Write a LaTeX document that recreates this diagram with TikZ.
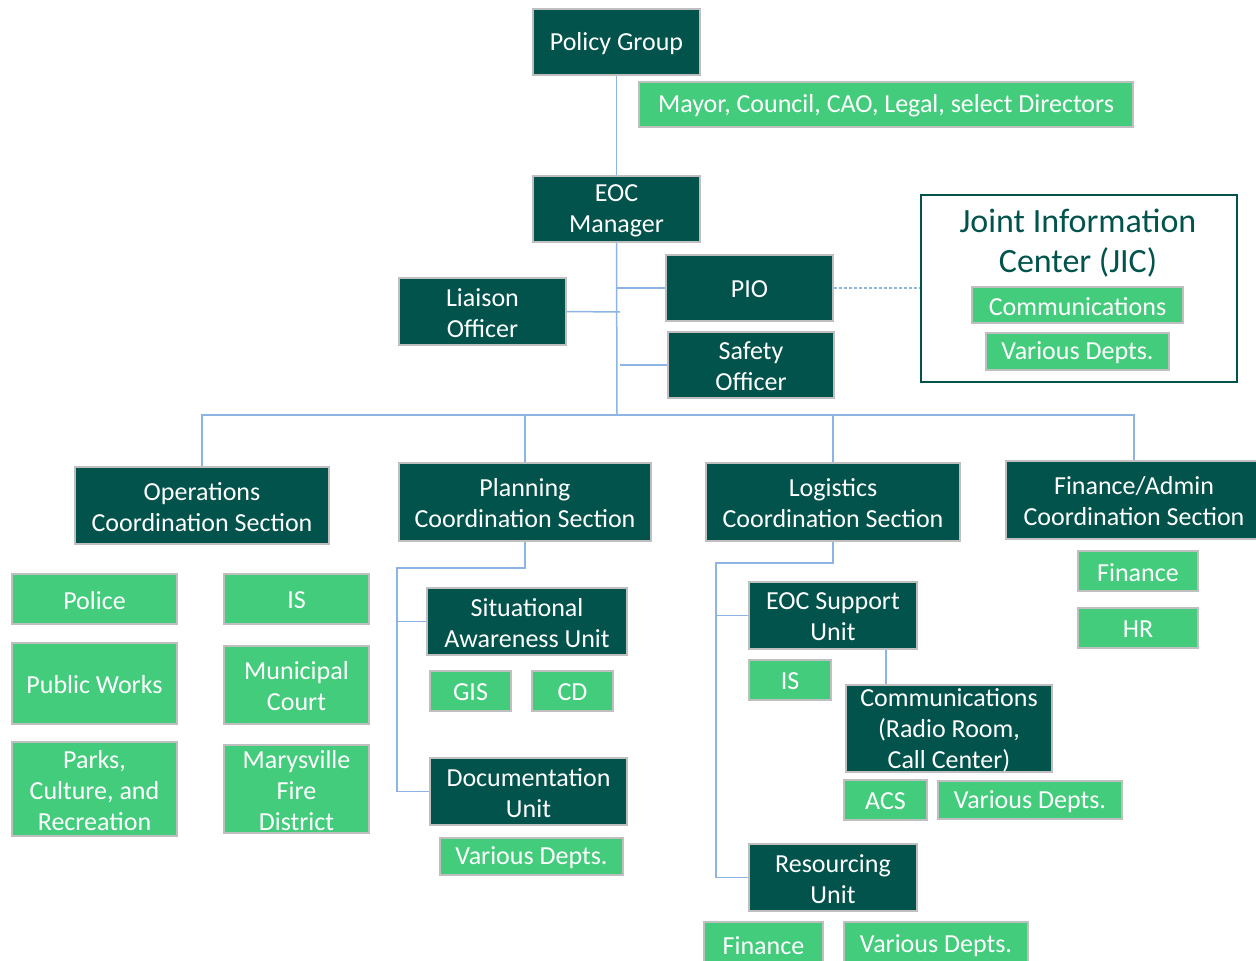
\documentclass[tikz,border=0pt]{standalone}
\usepackage{fontspec}
\setmainfont{Carlito}
\definecolor{dk}{RGB}{2,83,76}
\definecolor{gr}{RGB}{68,204,125}
\definecolor{bd}{RGB}{191,191,191}
\definecolor{ln}{RGB}{141,180,226}
\tikzset{
  dkbox/.style={draw=bd, line width=2pt, fill=dk, inner sep=0pt},
  grbox/.style={draw=bd, line width=2pt, fill=gr, inner sep=0pt},
  txt/.style={text=white, align=center, inner sep=0pt, yshift=-1.5pt, font=\fontsize{26}{31}\selectfont},
  conn/.style={draw=ln, line width=1.5pt},
  jicline/.style={draw=ln, line width=1.2pt, dash pattern=on 3pt off 2pt},
  jicbox/.style={draw=dk, line width=2pt, fill=white, inner sep=0pt},
}
% name, style, left, top, right, bottom, text
\newcommand\bx[7]{%
  \node[#2, minimum width={#5-#3}, minimum height={#6-#4}] (#1) at ({(#3+#5)/2},{(#4+#6)/2}) {};
  \node[txt] (#1t) at (#1.center) {#7};}
\begin{document}
\begin{tikzpicture}[x=1pt, y=-1pt]
\useasboundingbox (0,0) rectangle (1256,961);
% junction coordinates
\coordinate (bus) at (617,415);
\coordinate (pj) at (397,568);
\coordinate (lj) at (716,563);
\coordinate (ljoin) at (620,312);
% top
\bx{policy}{dkbox}{533}{9}{700}{75}{Policy Group}
\bx{mayor}{grbox}{639}{82}{1133}{127}{Mayor, Council, CAO, Legal, select Directors}
\bx{eoc}{dkbox}{533}{176}{700}{242}{EOC\\Manager}
\bx{liaison}{dkbox}{399}{278}{566}{345}{Liaison\\Officer}
\bx{pio}{dkbox}{666}{255}{833}{321}{PIO}
\bx{safety}{dkbox}{668}{332}{834}{398}{Safety\\Officer}
% JIC
\node[jicbox, minimum width=316, minimum height=187] (jic) at (1079,288.5) {};
\node[text=dk, align=center, inner sep=0pt, font=\fontsize{34}{40}\selectfont] (jict) at (1078,243) {Joint Information\\Center (JIC)};
\bx{jcom}{grbox}{972}{287}{1183}{323}{Communications}
\bx{jvar}{grbox}{986}{333}{1169}{370}{Various Depts.}
% sections
\bx{ops}{dkbox}{75}{467}{329}{544}{Operations\\Coordination Section}
\bx{plan}{dkbox}{399}{463}{651}{541}{Planning\\Coordination Section}
\bx{log}{dkbox}{706}{463}{960}{541}{Logistics\\Coordination Section}
\bx{fin}{dkbox}{1006}{461}{1262}{539}{Finance/Admin\\Coordination Section}
% operations children
\bx{police}{grbox}{12}{574}{177}{624}{Police}
\bx{ois}{grbox}{224}{574}{369}{624}{IS}
\bx{pw}{grbox}{12}{643}{177}{724}{Public Works}
\bx{court}{grbox}{224}{646}{369}{724}{Municipal\\Court}
\bx{parks}{grbox}{12}{742}{177}{836}{Parks,\\Culture, and\\Recreation}
\bx{fire}{grbox}{224}{745}{369}{833}{Marysville\\Fire\\District}
% planning children
\bx{sit}{dkbox}{427}{588}{627}{655}{Situational\\Awareness Unit}
\bx{gis}{grbox}{430}{671}{511}{711}{GIS}
\bx{cd}{grbox}{532}{671}{613}{711}{CD}
\bx{doc}{dkbox}{430}{758}{627}{825}{Documentation\\Unit}
\bx{dvar}{grbox}{440}{838}{623}{875}{Various Depts.}
% logistics children
\bx{sup}{dkbox}{749}{582}{917}{649}{EOC Support\\Unit}
\bx{lis}{grbox}{749}{660}{831}{700}{IS}
\bx{comm}{dkbox}{846}{685}{1052}{772}{Communications\\(Radio Room,\\Call Center)}
\bx{acs}{grbox}{844}{780}{927}{820}{ACS}
\bx{cvar}{grbox}{938}{781}{1122}{819}{Various Depts.}
\bx{res}{dkbox}{749}{844}{917}{911}{Resourcing\\Unit}
\bx{rfin}{grbox}{704}{922}{823}{966}{Finance}
\bx{rvar}{grbox}{844}{922}{1028}{966}{Various Depts.}
% finance children
\bx{ffin}{grbox}{1078}{551}{1198}{591}{Finance}
\bx{hr}{grbox}{1078}{608}{1198}{648}{HR}
% connectors
\draw[conn] (policy.south) -- (eoc.north);
\draw[conn] (eoc.south) -- (bus);
\draw[conn] (pio.west) -- (pio.west -| eoc.south);
\draw[conn] (liaison.east) -- (ljoin);
\draw[conn] (safety.west) -- (safety.west -| ljoin);
\draw[jicline] (pio.east) -- (pio.east -| jic.west);
\draw[conn] (ops.north) |- (bus) -| (fin.north);
\draw[conn] (plan.north) -- (plan.north |- bus);
\draw[conn] (log.north) -- (log.north |- bus);
\draw[conn] (plan.south) |- (pj) |- (doc.west);
\draw[conn] (sit.west -| pj) -- (sit.west);
\draw[conn] (log.south) |- (lj) |- (res.west);
\draw[conn] (sup.west -| lj) -- (sup.west);
\draw[conn] ([xshift=53pt]sup.south) -- ([xshift=53pt]sup.south |- comm.north);
\end{tikzpicture}
\end{document}
